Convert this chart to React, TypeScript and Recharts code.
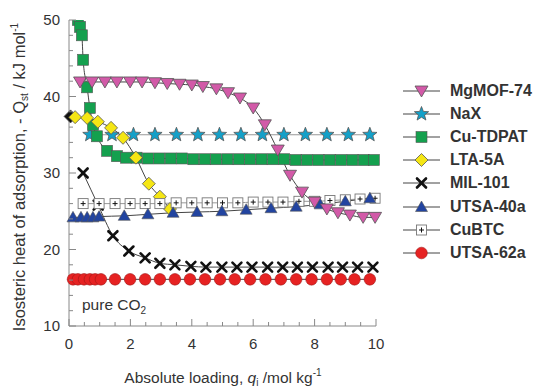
import React from "react";
import { LineChart, Line, XAxis, YAxis, Legend } from "recharts";

const FONT = "Arial, 'Liberation Sans', Helvetica, sans-serif";
const TEXT = "#333";

// values, x = loading (mol/kg), y = Qst (kJ/mol)
const mgmofX = [0.36, 0.75, 1.17, 1.56, 1.99, 2.38, 2.8, 3.2, 3.6, 4.0, 4.36, 4.8, 5.18, 5.57, 6.0, 6.38, 6.8, 7.2, 7.59, 8.0, 8.4, 8.76, 9.15, 9.58, 9.97];
const mgmofY = [41.9, 41.9, 41.9, 41.9, 41.9, 41.9, 41.8, 41.7, 41.6, 41.5, 41.3, 41.0, 40.5, 39.8, 38.5, 36.3, 33.0, 29.7, 27.5, 26.2, 25.3, 24.8, 24.5, 24.2, 24.2];

const naxX = [0.68, 1.4, 2.1, 2.8, 3.5, 4.2, 4.9, 5.6, 6.3, 7.0, 7.7, 8.4, 9.1, 9.8];
const naxY = [35, 35, 35, 35, 35, 35, 35, 35, 35, 35, 35, 35, 35, 35];

const tdpatX = [0.29, 0.36, 0.42, 0.46, 0.59, 0.68, 0.78, 0.91, 1.24, 1.56, 1.86, 2.2, 2.57, 2.94, 3.31, 3.68, 4.05, 4.42, 4.79, 5.16, 5.53, 5.9, 6.27, 6.64, 7.01, 7.38, 7.75, 8.12, 8.49, 8.86, 9.23, 9.6, 9.93];
const tdpatY = [50.0, 49.1, 48.0, 44.8, 41.2, 38.5, 36.3, 34.8, 32.9, 32.2, 32.0, 32.0, 31.9, 31.9, 31.9, 31.9, 31.8, 31.8, 31.8, 31.8, 31.8, 31.8, 31.8, 31.8, 31.8, 31.7, 31.7, 31.7, 31.7, 31.7, 31.7, 31.7, 31.7];

const ltaX = [0.05, 0.2, 0.59, 0.94, 1.37, 1.76, 2.18, 2.6, 2.96, 3.29];
const ltaY = [37.4, 37.3, 37.2, 36.7, 35.9, 34.6, 32.0, 28.6, 26.9, 25.3];

const milX = [0.46, 0.95, 1.43, 1.95, 2.48, 2.96, 3.45, 3.97, 4.46, 4.98, 5.47, 5.96, 6.47, 6.96, 7.44, 7.93, 8.44, 8.91, 9.4, 9.9];
const milY = [30.0, 25.8, 21.8, 19.8, 18.9, 18.2, 18.0, 17.8, 17.7, 17.7, 17.7, 17.7, 17.7, 17.7, 17.7, 17.7, 17.7, 17.7, 17.7, 17.7];

const utsa40X = [0.13, 0.39, 0.59, 0.78, 0.98, 1.8, 2.57, 3.39, 4.17, 4.98, 5.77, 6.58, 7.4, 8.18, 9.0, 9.8];
const utsa40Y = [24.2, 24.2, 24.2, 24.2, 24.3, 24.4, 24.6, 24.8, 24.9, 25.0, 25.2, 25.4, 25.6, 25.9, 26.3, 26.7];

const cubtcX = [0.46, 0.98, 1.5, 1.99, 2.48, 2.96, 3.49, 4.0, 4.5, 5.0, 5.5, 6.0, 6.48, 6.97, 7.49, 8.0, 8.5, 9.0, 9.48, 9.97];
const cubtcY = [26.0, 26.0, 26.0, 26.0, 26.0, 26.0, 26.1, 26.1, 26.1, 26.1, 26.1, 26.2, 26.2, 26.2, 26.3, 26.3, 26.4, 26.5, 26.6, 26.7];

const utsa62X = [0.13, 0.29, 0.49, 0.68, 0.85, 1.04, 1.5, 1.99, 2.48, 2.96, 3.45, 3.94, 4.43, 4.92, 5.4, 5.9, 6.4, 6.9, 7.4, 7.9, 8.4, 8.85, 9.3, 9.8];
const utsa62Y = [16.1, 16.1, 16.1, 16.1, 16.1, 16.1, 16.1, 16.1, 16.1, 16.1, 16.1, 16.1, 16.1, 16.1, 16.1, 16.1, 16.1, 16.1, 16.1, 16.1, 16.1, 16.1, 16.1, 16.1];

const xTicks = [0, 0.5, 1, 1.5, 2, 2.5, 3, 3.5, 4, 4.5, 5, 5.5, 6, 6.5, 7, 7.5, 8, 8.5, 9, 9.5, 10];
const xLabels = [0, 2, 4, 6, 8, 10];
const yTicks = [10, 12, 14, 16, 18, 20, 22, 24, 26, 28, 30, 32, 34, 36, 38, 40, 42, 44, 46, 48, 50];
const yLabels = [10, 20, 30, 40, 50];

type Kind = "invtri" | "star" | "square" | "diamond" | "cross" | "tri" | "boxplus" | "circle";

interface Series {
  name: string;
  xs: number[];
  ys: number[];
  kind: Kind;
  fill: string;
  line: string;
}

const series: Series[] = [
  { name: "MgMOF-74", xs: mgmofX, ys: mgmofY, kind: "invtri", fill: "#d25aa8", line: "#444" },
  { name: "NaX", xs: naxX, ys: naxY, kind: "star", fill: "#14a0c8", line: "#999" },
  { name: "Cu-TDPAT", xs: tdpatX, ys: tdpatY, kind: "square", fill: "#14a04e", line: "#444" },
  { name: "LTA-5A", xs: ltaX, ys: ltaY, kind: "diamond", fill: "#f5e614", line: "#444" },
  { name: "MIL-101", xs: milX, ys: milY, kind: "cross", fill: "#111", line: "#444" },
  { name: "UTSA-40a", xs: utsa40X, ys: utsa40Y, kind: "tri", fill: "#2244a0", line: "#444" },
  { name: "CuBTC", xs: cubtcX, ys: cubtcY, kind: "boxplus", fill: "#fff", line: "#999" },
  { name: "UTSA-62a", xs: utsa62X, ys: utsa62Y, kind: "circle", fill: "#e62222", line: "#444" },
];

// draw order differs from legend order (which markers sit on top)
const drawOrder = ["UTSA-62a", "MIL-101", "NaX", "Cu-TDPAT", "LTA-5A", "CuBTC", "UTSA-40a", "MgMOF-74"];

function marker(kind: Kind, cx: number, cy: number, fill: string, key?: React.Key) {
  const edge = "#555";
  switch (kind) {
    case "invtri":
      return (
        <polygon key={key} points={`${cx - 6.5},${cy - 5} ${cx + 6.5},${cy - 5} ${cx},${cy + 6}`} fill={fill} stroke={edge} strokeWidth={0.8} />
      );
    case "star": {
      const pts: string[] = [];
      for (let i = 0; i < 10; i++) {
        const r = i % 2 === 0 ? 7.5 : 3.2;
        const a = -Math.PI / 2 + (i * Math.PI) / 5;
        pts.push(`${cx + r * Math.cos(a)},${cy + r * Math.sin(a)}`);
      }
      return <polygon key={key} points={pts.join(" ")} fill={fill} stroke={edge} strokeWidth={0.8} />;
    }
    case "square":
      return <rect key={key} x={cx - 5.5} y={cy - 5.5} width={11} height={11} fill={fill} stroke={edge} strokeWidth={0.6} />;
    case "diamond":
      return (
        <polygon key={key} points={`${cx},${cy - 6.5} ${cx + 6.5},${cy} ${cx},${cy + 6.5} ${cx - 6.5},${cy}`} fill={fill} stroke={edge} strokeWidth={0.8} />
      );
    case "cross":
      return (
        <g key={key} stroke={fill} strokeWidth={2.6} strokeLinecap="round">
          <line x1={cx - 4.5} y1={cy - 4.5} x2={cx + 4.5} y2={cy + 4.5} />
          <line x1={cx - 4.5} y1={cy + 4.5} x2={cx + 4.5} y2={cy - 4.5} />
        </g>
      );
    case "tri":
      return (
        <polygon key={key} points={`${cx - 6},${cy + 4.5} ${cx + 6},${cy + 4.5} ${cx},${cy - 6}`} fill={fill} stroke={edge} strokeWidth={0.6} />
      );
    case "boxplus":
      return (
        <g key={key}>
          <rect x={cx - 5} y={cy - 5} width={10} height={10} fill="#fff" stroke="#777" strokeWidth={0.9} />
          <line x1={cx - 2.5} y1={cy} x2={cx + 2.5} y2={cy} stroke="#111" strokeWidth={1} />
          <line x1={cx} y1={cy - 2.5} x2={cx} y2={cy + 2.5} stroke="#111" strokeWidth={1} />
        </g>
      );
    case "circle":
    default:
      return <circle key={key} cx={cx} cy={cy} r={5.8} fill={fill} stroke="#a01818" strokeWidth={0.6} />;
  }
}

const XTick = (props: any) => {
  const { x, y, payload } = props;
  const v = payload.value as number;
  const major = xLabels.includes(v);
  return (
    <g>
      <line x1={x} y1={y} x2={x} y2={y - (major ? 7 : 4)} stroke="#888" strokeWidth={1} />
      {major && (
        <text x={x} y={y + 23} textAnchor="middle" fontSize={15} fill={TEXT} fontFamily={FONT}>
          {v}
        </text>
      )}
    </g>
  );
};

const YTick = (props: any) => {
  const { x, y, payload } = props;
  const v = payload.value as number;
  const major = yLabels.includes(v);
  return (
    <g>
      <line x1={x} y1={y} x2={x + (major ? 7 : 4)} y2={y} stroke="#888" strokeWidth={1} />
      {major && (
        <text x={x - 9} y={y + 5} textAnchor="end" fontSize={15} fill={TEXT} fontFamily={FONT}>
          {v}
        </text>
      )}
    </g>
  );
};

const XTitle = () => (
  <text x={223} y={383} textAnchor="middle" fontSize={15.5} fill={TEXT} fontFamily={FONT}>
    Absolute loading, <tspan fontStyle="italic">q</tspan>
    <tspan fontSize={10} dy={3}>i</tspan>
    <tspan dy={-3}> /mol kg</tspan>
    <tspan fontSize={10} dy={-7}>-1</tspan>
  </text>
);

const YTitle = () => (
  <text transform="translate(25,177) rotate(-90)" textAnchor="middle" fontSize={16.5} fill={TEXT} fontFamily={FONT}>
    Isosteric heat of adsorption, - Q<tspan fontSize={10} dy={3}>st</tspan>
    <tspan dy={-3}> / kJ mol</tspan>
    <tspan fontSize={10} dy={-7}>-1</tspan>
  </text>
);

const LegendBox = () => (
  <div style={{ fontFamily: FONT }}>
    {series.map((s) => (
      <div key={s.name} style={{ display: "flex", alignItems: "center", height: 23.2 }}>
        <svg width={46} height={20} style={{ overflow: "visible" }}>
          <line x1={3} y1={10} x2={40} y2={10} stroke="#444" strokeWidth={1} />
          {marker(s.kind, 21.5, 10, s.fill)}
        </svg>
        <span style={{ fontSize: 16, fontWeight: "bold", color: TEXT, marginLeft: 4 }}>{s.name}</span>
      </div>
    ))}
  </div>
);

export default function App() {
  const ordered = drawOrder.map((n) => series.find((s) => s.name === n)!);
  return (
    <div style={{ position: "absolute", left: 0, top: 0, width: 534, height: 390, background: "#fff" }}>
      <LineChart width={534} height={390} margin={{ top: 20, right: 158, left: 0, bottom: 0 }}>
        <XAxis
          type="number"
          dataKey="x"
          domain={[0, 10]}
          ticks={xTicks}
          interval={0}
          tick={<XTick />}
          tickLine={false}
          tickSize={0}
          tickMargin={0}
          height={64}
          axisLine={{ stroke: "#888" }}
          label={<XTitle />}
        />
        <YAxis
          type="number"
          domain={[10, 50]}
          ticks={yTicks}
          interval={0}
          tick={<YTick />}
          tickLine={false}
          tickSize={0}
          tickMargin={0}
          width={69}
          axisLine={{ stroke: "#888" }}
          allowDataOverflow
          label={<YTitle />}
        />
        {ordered.map((s) => (
          <Line
            key={s.name}
            name={s.name}
            data={s.xs.map((x, i) => ({ x, y: s.ys[i] }))}
            dataKey="y"
            type="monotone"
            stroke={s.line}
            strokeWidth={1}
            dot={(p: any) =>
              marker(s.kind, p.cx, p.cy, s.name === "LTA-5A" && p.index === 0 ? "#111" : s.fill, `${s.name}-${p.index}`)
            }
            activeDot={false}
            isAnimationActive={false}
          />
        ))}
        <Legend
          layout="horizontal"
          verticalAlign="middle"
          align="center"
          content={<LegendBox />}
          wrapperStyle={{ left: 400, top: 79, width: 134, height: 190 }}
        />
      </LineChart>
      <div
        style={{ position: "absolute", left: 82, top: 296, fontFamily: FONT, fontSize: 15.5, color: TEXT, whiteSpace: "nowrap" }}
      >
        pure CO<sub style={{ fontSize: 10 }}>2</sub>
      </div>
    </div>
  );
}
